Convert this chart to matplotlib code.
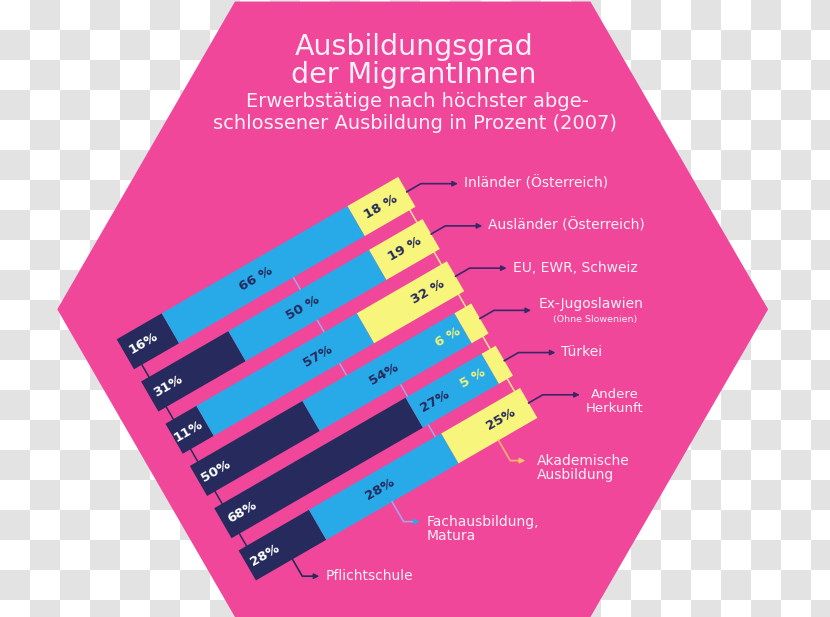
import numpy as np
import matplotlib
matplotlib.use('Agg')
import matplotlib.pyplot as plt
from matplotlib.transforms import Affine2D
from matplotlib.patches import RegularPolygon
from matplotlib.colors import ListedColormap

# ---------------- data ----------------
countries = ['Inländer (Österreich)', 'Ausländer (Österreich)', 'EU, EWR, Schweiz',
             'Ex-Jugoslawien', 'Türkei', 'Andere\nHerkunft']
country_notes = ['', '', '', '(Ohne Slowenien)', '', '']
categories = ['Pflichtschule', 'Fachausbildung,\nMatura', 'Akademische\nAusbildung']
pflicht = [16, 31, 11, 40, 68, 25]
fach = [66, 50, 57, 54, 27, 47]
akad = [18, 19, 32, 6, 5, 28]
pflicht_labels = ['16%', '31%', '11%', '50%', '68%', '28%']
fach_labels = ['66 %', '50 %', '57%', '54%', '27%', '28%']
akad_labels = ['18 %', '19 %', '32 %', '6 %', '5 %', '25%']
title_lines = ['Ausbildungsgrad', 'der MigrantInnen']
subtitle_lines = ['Erwerbstätige nach höchster abge-',
                  'schlossener Ausbildung in Prozent (2007)']

# ---------------- style / layout ----------------
W, H = 830, 617
PINK = '#f0479a'
NAVY = '#262a5c'
BLUE = '#28aae9'
YELLOW = '#f8f57c'
TXT = '#fdf0f6'
LEAD = '#3a2768'
plt.rcParams['font.family'] = ['DejaVu Sans']

fig = plt.figure(figsize=(W / 100, H / 100), dpi=100)
ax = fig.add_axes([0, 0, 1, 1])

# checkerboard (transparent background as rendered)
cell = 30
nr, nc = H // cell + 1, W // cell + 1
board = np.add.outer(np.arange(nr), np.arange(nc)) % 2
ax.imshow(board, cmap=ListedColormap(['#ffffff', '#e3e3e3']),
          extent=(0, nc * cell, nr * cell, 0), interpolation='nearest',
          aspect='auto', zorder=0)

# hexagon
ax.add_patch(RegularPolygon((412.7, 309.3), numVertices=6, radius=355.4,
                            orientation=np.pi / 6, facecolor=PINK,
                            edgecolor='none', zorder=1))

# titles
ax.text(414, 55, title_lines[0], ha='center', va='baseline', fontsize=20.5, color=TXT, zorder=5)
ax.text(414, 83, title_lines[1], ha='center', va='baseline', fontsize=20.5, color=TXT, zorder=5)
ax.text(417, 107, subtitle_lines[0], ha='center', va='baseline', fontsize=14, color=TXT, zorder=5)
ax.text(415, 129, subtitle_lines[1], ha='center', va='baseline', fontsize=14, color=TXT, zorder=5)

# rotated bar coordinate system: x = percent, y = row
theta = 30
S = 3.25        # px per percent
R = 48.76       # px per row
X0, Y0 = 116.7, 339.3
HB = 0.71       # bar thickness in row units
A = Affine2D().scale(S, R).rotate_deg(-theta).translate(X0, Y0)
T = A + ax.transData

rows = np.arange(len(countries))
left = np.zeros(len(rows))
for vals, col in zip([pflicht, fach, akad], [NAVY, BLUE, YELLOW]):
    ax.barh(rows, vals, height=HB, left=left, align='edge', color=col,
            linewidth=0, transform=T, zorder=3)
    left = left + np.array(vals)

# chain connectors in the gaps
dark_chain = 2.8
blue_chain = [56.6, 56.4, 55.7, 68.7, 69.9]
yellow_chain = 98
for i in range(len(rows) - 1):
    ax.plot([dark_chain, dark_chain], [i + HB, i + 1], transform=T, color=NAVY, lw=1.1, zorder=2)
    ax.plot([blue_chain[i], blue_chain[i]], [i + HB, i + 1], transform=T, color='#a7a3e6', lw=1.1, zorder=2)
    ax.plot([yellow_chain, yellow_chain], [i + HB, i + 1], transform=T, color='#f6e38c', lw=1.1, zorder=2)

# segment labels
dark_pos = [6.6, 6.3, 4.9, 6.3, 6.7, 6.2]
blue_pos = [46.4, 54.5, 51, 66, 75.3, 47]
yel_pos = [90.8, 90.5, 90.2, 88.5, 89, 90]
for i in rows:
    yc = i + HB / 2
    ax.text(dark_pos[i], yc, pflicht_labels[i], transform=T, rotation=theta,
            rotation_mode='anchor', ha='center', va='center', fontsize=9.5,
            fontweight='bold', color='white', zorder=4)
    ax.text(blue_pos[i], yc, fach_labels[i], transform=T, rotation=theta,
            rotation_mode='anchor', ha='center', va='center', fontsize=9.5,
            fontweight='bold', color=NAVY, zorder=4)
    small = akad[i] < 10
    ax.text(yel_pos[i], yc, akad_labels[i], transform=T, rotation=theta,
            rotation_mode='anchor', ha='center', va='center', fontsize=9.5,
            fontweight='bold', color='#eef27a' if small else NAVY, zorder=4)

# country legends on the right
for i in rows:
    yc = i + HB / 2
    sx, sy = A.transform((100, yc))
    bx, by = A.transform((105, yc))
    ex, ey = bx + 37, by
    ax.plot([sx, bx, ex - 4], [sy, by, ey], color=LEAD, lw=1.2, zorder=4)
    ax.annotate('', xy=(ex, ey), xytext=(ex - 6, ey),
                arrowprops=dict(arrowstyle='-|>', color=LEAD, lw=1.0,
                                mutation_scale=8, shrinkA=0, shrinkB=0), zorder=4)
    name = countries[i]
    if country_notes[i]:
        cx = ex + 6 + 54
        ax.text(cx, ey - 2, name, ha='center', va='baseline', fontsize=10, color=TXT, zorder=5)
        ax.text(cx + 4, ey + 12, country_notes[i], ha='center', va='baseline', fontsize=6.8, color=TXT, zorder=5)
    elif '\n' in name:
        l1, l2 = name.split('\n')
        cx = ex + 35
        ax.text(cx, ey + 3.5, l1, ha='center', va='baseline', fontsize=9.5, color=TXT, zorder=5)
        ax.text(cx, ey + 17, l2, ha='center', va='baseline', fontsize=9.5, color=TXT, zorder=5)
    else:
        ax.text(ex + 6, ey + 3.5, name, ha='left', va='baseline', fontsize=10, color=TXT, zorder=5)

# category legends below
last = rows[-1]
cat_start = [13, 48.4, 86.2]
cat_drop = [0.40, 0.47, 0.48]
cat_run = [17, 16, 15]
cat_gap = [6, 7, 12]
cat_line = [NAVY, '#a7a3e6', '#f8b46c']
cat_head = [NAVY, BLUE, '#f8c862']
for k, cat in enumerate(categories):
    sx, sy = A.transform((cat_start[k], last + HB))
    bx, by = A.transform((cat_start[k], last + HB + cat_drop[k]))
    ex, ey = bx + cat_run[k], by
    ax.plot([sx, bx, ex - 4], [sy, by, ey], color=cat_line[k], lw=1.2, zorder=4)
    ax.annotate('', xy=(ex, ey), xytext=(ex - 6, ey),
                arrowprops=dict(arrowstyle='-|>', color=cat_head[k], lw=1.0,
                                mutation_scale=8, shrinkA=0, shrinkB=0), zorder=4)
    for j, line in enumerate(cat.split('\n')):
        ax.text(ex + cat_gap[k], ey + 4 + 14 * j, line, ha='left', va='baseline',
                fontsize=10, color=TXT, zorder=5)

ax.set_xlim(0, W)
ax.set_ylim(H, 0)
ax.axis('off')
fig.savefig('out.png', dpi=100)
